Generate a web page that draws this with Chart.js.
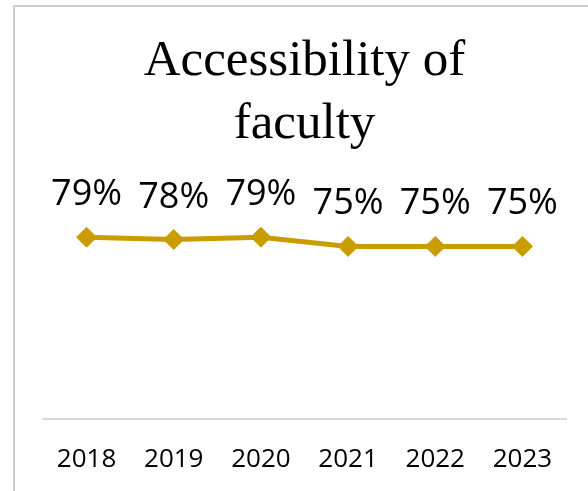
<!DOCTYPE html>
<html>
<head>
<meta charset="utf-8">
<script src="https://cdn.jsdelivr.net/npm/chart.js@4"></script>
<style>
	html, body { margin: 0; padding: 0; background: #fff; }
	#wrap { position: relative; width: 588px; height: 491px; overflow: hidden; }
	#frame { position: absolute; left: 13px; top: 5px; width: 600px; height: 520px; border: 2px solid #cfcfcf; }
	#chart { position: absolute; left: 0; top: 0; }
</style>
</head>
<body>
<div id="wrap">
	<div id="frame"></div>
	<canvas id="chart" width="588" height="491"></canvas>
</div>
<script>
const years = ['2018', '2019', '2020', '2021', '2022', '2023'];
const accessibility = [79, 78, 79, 75, 75, 75];
const pointLabels = ['79%', '78%', '79%', '75%', '75%', '75%'];
const titleLines = ['Accessibility of', 'faculty'];

const gold = '#C99C00';

// draws the percentage above each marker
const valueLabels = {
	id: 'valueLabels',
	afterDatasetsDraw(chart) {
		const ctx = chart.ctx;
		const meta = chart.getDatasetMeta(0);
		ctx.save();
		ctx.font = '36px "Open Sans"';
		ctx.fillStyle = '#000';
		ctx.textAlign = 'center';
		ctx.textBaseline = 'alphabetic';
		meta.data.forEach((pt, i) => {
			ctx.fillText(pointLabels[i], pt.x, pt.y - 32);
		});
		ctx.restore();
	}
};

new Chart(document.getElementById('chart'), {
	type: 'line',
	data: {
		labels: years,
		datasets: [
			{
				label: 'Accessibility of faculty',
				data: accessibility,
				borderColor: gold,
				backgroundColor: gold,
				borderWidth: 5,
				pointStyle: 'rectRot',
				pointRadius: 10,
				pointBorderWidth: 1,
				pointBackgroundColor: gold,
				pointBorderColor: gold,
				tension: 0,
				fill: false
			}
		]
	},
	options: {
		responsive: false,
		animation: false,
		layout: {
			padding: { left: 43, right: 22, bottom: -9, top: 0 }
		},
		scales: {
			y: {
				display: false,
				min: 0,
				max: 100
			},
			x: {
				offset: true,
				grid: { display: false, drawTicks: false },
				border: { display: true, color: '#d9d9d9', width: 2 },
				ticks: {
					color: '#000',
					padding: 25,
					font: { family: '"Open Sans"', size: 26 }
				}
			}
		},
		plugins: {
			legend: { display: false },
			tooltip: { enabled: false },
			title: {
				display: true,
				text: titleLines,
				color: '#000',
				font: { family: '"Liberation Serif"', size: 51, weight: 'normal', lineHeight: 1.235 },
				padding: { top: 30, bottom: 33 }
			}
		}
	},
	plugins: [valueLabels]
});
</script>
</body>
</html>
